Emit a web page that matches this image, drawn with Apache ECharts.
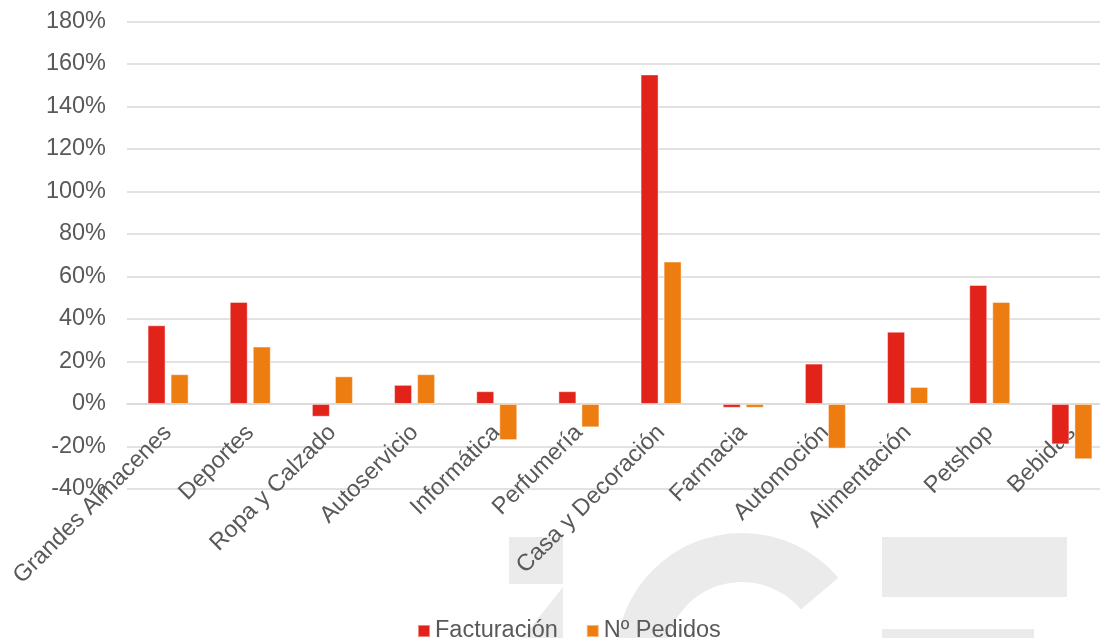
<!DOCTYPE html>
<html>
<head>
<meta charset="utf-8">
<script src="https://cdn.jsdelivr.net/npm/echarts@6/dist/echarts.min.js"></script>
<style>
html,body{margin:0;padding:0;background:#fff;}
#chart{width:1100px;height:638px;}
</style>
</head>
<body>
<div id="chart"></div>
<script>
const categories = ["Grandes Almacenes","Deportes","Ropa y Calzado","Autoservicio","Informática","Perfumería","Casa y Decoración","Farmacia","Automoción","Alimentación","Petshop","Bebidas"];
const facturacion = [37, 48, -6, 9, 6, 6, 155, -1.8, 19, 34, 56, -19];
const pedidos = [14, 27, 13, 14, -17, -11, 67, -1.8, -21, 8, 48, -26];
const seriesNames = ["Facturación", "Nº Pedidos"];

const FONT = '"Liberation Sans", Arial, sans-serif';
const TXT = '#595959';
const WM = '#EBEBEB';

const chart = echarts.init(document.getElementById('chart'), null, {renderer:'canvas'});
chart.setOption({
  animation: false,
  backgroundColor: '#ffffff',
  textStyle: {fontFamily: FONT},
  graphic: [
    {type:'rect', z:-10, silent:true, shape:{x:509,y:537,width:54,height:47}, style:{fill:WM}},
    {type:'polygon', z:-10, silent:true, shape:{points:[[563,587],[563,640],[521,640]]}, style:{fill:WM}},
    {type:'sector', z:-10, silent:true, shape:{cx:742,cy:659,r:126,r0:77,startAngle:Math.PI/2,endAngle:2*Math.PI-0.70,clockwise:true}, style:{fill:WM}},
    {type:'rect', z:-10, silent:true, shape:{x:882,y:537,width:185,height:60}, style:{fill:WM}},
    {type:'rect', z:-10, silent:true, shape:{x:882,y:629,width:152,height:20}, style:{fill:WM}}
  ],
  legend: {
    data: seriesNames,
    top: 614,
    left: 412,
    itemWidth: 12,
    itemHeight: 12,
    itemGap: 28,
    icon: 'rect',
    textStyle: {fontSize: 23.5, color: TXT, fontFamily: FONT}
  },
  grid: {left: 127, top: 21.3, width: 986, bottom: 149, containLabel: false, outerBoundsMode: 'none'},
  xAxis: {
    type: 'category',
    data: categories,
    offset: -85,
    axisLine: {onZero: false, lineStyle: {color: '#D9D9D9', width: 1.5}},
    axisTick: {show: false},
    axisLabel: {interval: 0, rotate: 45, fontSize: 23.5, color: TXT, fontFamily: FONT, margin: 25}
  },
  yAxis: {
    type: 'value',
    min: -40, max: 180, interval: 20,
    axisLine: {show: false},
    axisTick: {show: false},
    axisLabel: {formatter: '{value}%', fontSize: 23.5, color: TXT, fontFamily: FONT, margin: 21},
    splitLine: {lineStyle: {color: '#D9D9D9', width: 1.5}}
  },
  series: [
    {name: seriesNames[0], type: 'bar', data: facturacion, barWidth: 18, barGap: '28%',
     itemStyle: {color: '#E2231A', borderColor: 'rgba(255,255,255,0.45)', borderWidth: 1}},
    {name: seriesNames[1], type: 'bar', data: pedidos, barWidth: 18, barGap: '28%',
     itemStyle: {color: '#EE7D11', borderColor: 'rgba(255,255,255,0.45)', borderWidth: 1}}
  ]
});
</script>
</body>
</html>
